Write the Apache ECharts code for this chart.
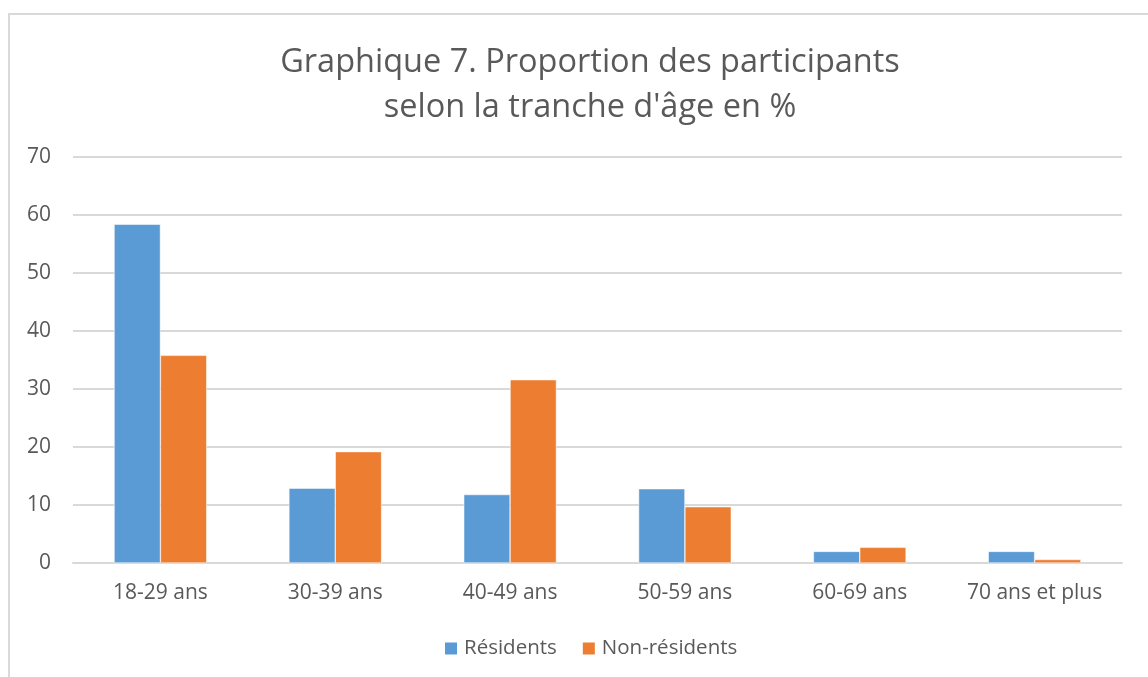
<!DOCTYPE html>
<html>
<head>
<meta charset="utf-8">
<script src="https://cdn.jsdelivr.net/npm/echarts@6/dist/echarts.min.js"></script>
<style>
  html, body { margin: 0; padding: 0; background: #fff; overflow: hidden; }
  #frame {
    position: absolute; left: 8px; top: 13px; width: 1200px; height: 720px;
    border: 2px solid #d9d9d9; box-sizing: border-box;
  }
  #chart { position: absolute; left: 0; top: 0; width: 1148px; height: 677px; }
</style>
</head>
<body>
<div id="frame"></div>
<div id="chart"></div>
<script>
const categories = ["18-29 ans", "30-39 ans", "40-49 ans", "50-59 ans", "60-69 ans", "70 ans et plus"];
const residents = [58.4, 12.9, 11.8, 12.8, 2.0, 2.0];
const nonResidents = [35.8, 19.2, 31.6, 9.7, 2.7, 0.6];

const textColor = "#595959";
const font = "Open Sans";

window.addEventListener("DOMContentLoaded", function () {
  const chart = echarts.init(document.getElementById("chart"));

  const options = {
    animation: false,
    title: {
      text: "Graphique 7. Proportion des participants\nselon la tranche d'âge en %",
      left: 585,
      textAlign: "center",
      top: 35,
      textStyle: {
        fontFamily: font,
        fontSize: 32.5,
        fontWeight: "normal",
        color: textColor,
        lineHeight: 45,
      },
    },
    legend: {
      top: 633,
      left: 438,
      itemWidth: 14,
      itemHeight: 14,
      itemGap: 24,
      icon: "rect",
      textStyle: { fontFamily: font, fontSize: 20.5, color: textColor, padding: [0, 0, 0, 1] },
    },
    grid: { left: 73, right: 26, top: 157, bottom: 114, containLabel: false },
    xAxis: {
      type: "category",
      data: categories,
      axisLine: { lineStyle: { color: "#d9d9d9", width: 2 } },
      axisTick: { show: false },
      axisLabel: { fontFamily: font, fontSize: 21, color: textColor, margin: 20, interval: 0 },
    },
    yAxis: {
      type: "value",
      min: 0,
      max: 70,
      interval: 10,
      axisLine: { show: false },
      axisTick: { show: false },
      splitLine: { lineStyle: { color: "#d9d9d9", width: 2 } },
      axisLabel: { fontFamily: font, fontSize: 21, color: textColor, margin: 22 },
    },
    series: [
      {
        name: "Résidents",
        type: "bar",
        data: residents,
        barGap: "0%",
        barCategoryGap: "47%",
        itemStyle: { color: "#5b9bd5", borderColor: "#fff", borderWidth: 0.5 },
      },
      {
        name: "Non-résidents",
        type: "bar",
        data: nonResidents,
        itemStyle: { color: "#ed7d31", borderColor: "#fff", borderWidth: 0.5 },
      },
    ],
  };

  chart.setOption(options);
});
</script>
</body>
</html>
